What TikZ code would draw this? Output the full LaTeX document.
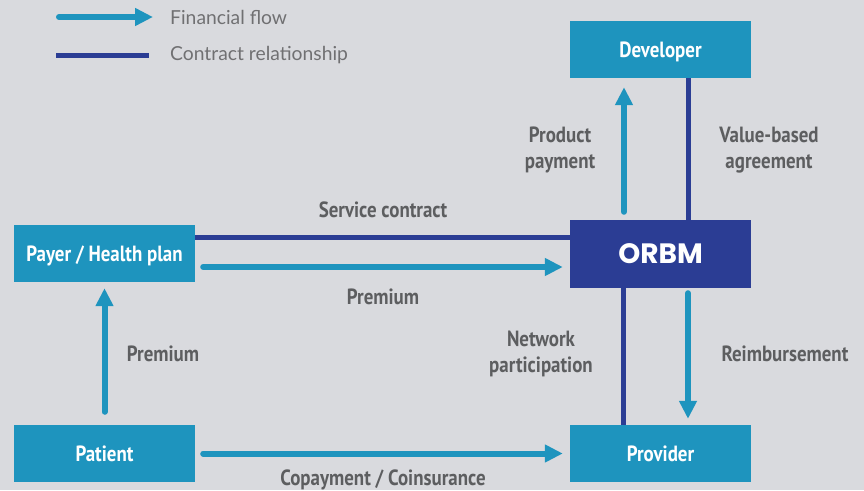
\documentclass[tikz,border=0pt]{standalone}
\usepackage{fontspec}
\usetikzlibrary{arrows.meta,calc}
\newfontfamily\boxfont{PT Sans}[FakeStretch=0.86]
\newfontfamily\legfont{Lato}
\newfontfamily\orbmfont{Poppins}
\definecolor{bg}{RGB}{217,218,222}
\definecolor{lblue}{RGB}{30,148,190}
\definecolor{dblue}{RGB}{43,61,148}
\definecolor{tgray}{RGB}{93,94,96}
\definecolor{lgray}{RGB}{112,112,114}
\tikzset{
  box/.style={rectangle, fill=lblue, minimum width=181pt, minimum height=57pt, inner sep=0pt, text=white, text height=15.5pt, text depth=0pt, font=\boxfont\bfseries\fontsize{22}{24}\selectfont},
  flow/.style={draw=lblue, line width=6pt, line cap=round, -{Triangle[width=17pt,length=18pt]}},
  contract/.style={draw=dblue, line width=5pt},
  lbl/.style={text=tgray, font=\boxfont\bfseries\fontsize{22}{26}\selectfont, align=center, inner sep=0pt},
  leg/.style={text=lgray, font=\legfont\fontsize{19.3}{22}\selectfont, anchor=west, inner sep=0pt}
}
\begin{document}
\begin{tikzpicture}[x=1pt,y=-1pt]
\fill[bg] (0,0) rectangle (864,490);
\useasboundingbox (0,0) rectangle (864,490);
% legend
\coordinate (l1a) at (59,17);
\coordinate (l1b) at (153,17);
\coordinate (l2a) at (56,55);
\coordinate (l2b) at (149,55);
\draw[flow] (l1a) -- (l1b);
\draw[contract] (l2a) -- (l2b);
\node[leg] (t1) at (170,17) {Financial flow};
\node[leg] (t2) at (170,55) {Contract relationship};
% boxes
\node[box] (dev) at (660.5,49.5) {Developer};
\node[box, fill=dblue, minimum height=68pt, text height=19.5pt, font=\orbmfont\bfseries\fontsize{28}{30}\selectfont] (orbm) at (660.5,254) {ORBM};
\node[box] (prov) at (660.5,453.5) {Provider};
\node[box] (payer) at (104.5,253.5) {Payer / Health plan};
\node[box] (pat) at (104.5,453.5) {Patient};
% connectors
\draw[flow] ($(orbm.north)+(-36.5,-8)$) -- ($(dev.south)+(-36.5,9)$);
\draw[contract] ($(dev.south)+(27.5,0)$) -- ($(orbm.north)+(27.5,0)$);
\draw[contract] ($(payer.east)+(0,-16)$) -- ($(payer.east -| orbm.west)+(0,-16)$);
\draw[flow] ($(payer.east)+(8,13.5)$) -- ($(payer.east -| orbm.west)+(-7,13.5)$);
\draw[contract] ($(orbm.south)+(-37.5,0)$) -- ($(prov.north)+(-37.5,0)$);
\draw[flow] ($(orbm.south)+(27.5,5)$) -- ($(prov.north)+(27.5,-6)$);
\draw[flow] ($(pat.north)+(0,-13)$) -- ($(payer.south)+(0,6)$);
\draw[flow] ($(pat.east)+(8,0)$) -- ($(pat.east -| prov.west)+(-7,0)$);
% labels
\node[lbl] (sc) at (383,210) {Service contract};
\node[lbl] (pr1) at (383,297) {Premium};
\node[lbl] (pp) at (560,150) {Product\\payment};
\node[lbl] (vb) at (769,150) {Value-based\\agreement};
\node[lbl] (np) at (541,354) {Network\\participation};
\node[lbl] (rb) at (785,354) {Reimbursement};
\node[lbl] (pr2) at (163,354) {Premium};
\node[lbl] (cc) at (383,480) {Copayment / Coinsurance};
\end{tikzpicture}
\end{document}
